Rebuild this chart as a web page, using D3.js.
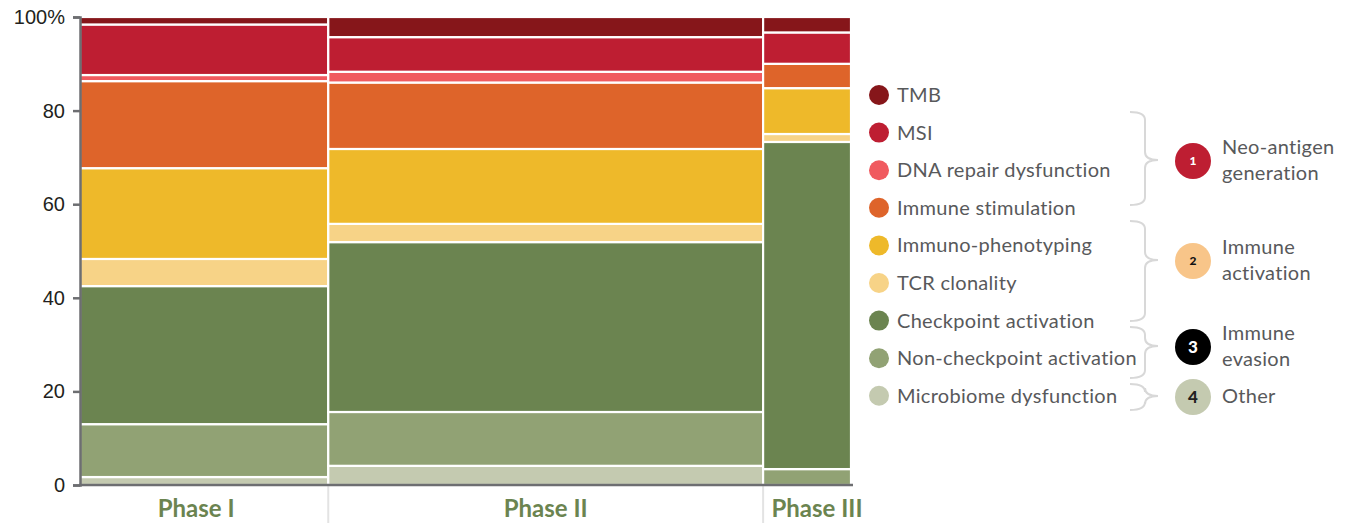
<!DOCTYPE html>
<html>
<head>
<meta charset="utf-8">
<script src="https://cdn.jsdelivr.net/npm/d3@7"></script>
<style>
  body { margin: 0; background: #fff; }
  svg { display: block; font-family: Lato, "Open Sans", sans-serif; }
  .yaxis text { font-size: 20px; fill: #231f20; font-variant-numeric: oldstyle-nums; font-feature-settings: "onum"; }
  .legend text, .group text.lbl { font-size: 20px; fill: #58595b; letter-spacing: 0.3px; }
</style>
</head>
<body>
<svg id="chart" width="1346" height="523"></svg>
<script>
// categories, bottom of the stack first
const categories = ["Microbiome dysfunction", "Non-checkpoint activation", "Checkpoint activation",
  "TCR clonality", "Immuno-phenotyping", "Immune stimulation", "DNA repair dysfunction", "MSI", "TMB"];
const catColors = ["#c4cab0", "#91a274", "#6b8450", "#f7d387", "#eeb92a", "#de642a", "#f05a5f", "#be1e32", "#86161a"];

const phases = ["Phase I", "Phase II", "Phase III"];
const phaseShare = [32.2, 56.4, 11.4]; // width of each column (share of trials, %)

// % of each phase, same order as categories
const phaseI   = [1.7, 11.3, 29.5, 5.8, 19.4, 18.6, 1.3, 10.8, 1.6];
const phaseII  = [4.1, 11.5, 36.3, 3.9, 16.0, 14.2, 2.3, 7.4, 4.3];
const phaseIII = [0, 3.4, 69.9, 1.7, 9.8, 5.2, 0, 6.7, 3.3];
const phaseValues = [phaseI, phaseII, phaseIII];

const yTicks = [0, 20, 40, 60, 80, 100];

const groups = [
  { num: "1", lines: ["Neo-antigen", "generation"], fill: "#be1e32", text: "#fff", size: 12 },
  { num: "2", lines: ["Immune", "activation"], fill: "#f8c589", text: "#111", size: 12 },
  { num: "3", lines: ["Immune", "evasion"], fill: "#000", text: "#fff", size: 17 },
  { num: "4", lines: ["Other"], fill: "#c4cab0", text: "#222", size: 17 }
];

const svg = d3.select("#chart");

const x = d3.scaleLinear().domain([0, 100]).range([80, 851]);
const y = d3.scaleLinear().domain([0, 100]).range([485, 17]);

// column positions
let acc = 0;
const cols = phases.map((p, i) => {
  const c = { name: p, x0: acc, x1: acc + phaseShare[i], values: phaseValues[i] };
  acc += phaseShare[i];
  return c;
});

// separators below axis
svg.append("g").selectAll("line").data(cols.slice(1)).enter().append("line")
  .attr("x1", d => x(d.x0)).attr("x2", d => x(d.x0))
  .attr("y1", 486).attr("y2", 523)
  .attr("stroke", "#e3e3e3").attr("stroke-width", 2);

// stacked cells
const cells = [];
cols.forEach(c => {
  let base = 0;
  c.values.forEach((v, k) => {
    if (v > 0) cells.push({ col: c, y0: base, y1: base + v, k: k });
    base += v;
  });
});

svg.append("g").selectAll("rect").data(cells).enter().append("rect")
  .attr("x", d => x(d.col.x0))
  .attr("width", d => x(d.col.x1) - x(d.col.x0))
  .attr("y", d => y(d.y1))
  .attr("height", d => y(d.y0) - y(d.y1))
  .style("fill", d => catColors[d.k])
  .attr("stroke", "#fff")
  .attr("stroke-width", 2.2);

// y axis
const yAxis = svg.append("g").attr("class", "yaxis")
  .attr("transform", "translate(80,0)")
  .call(d3.axisLeft(y).tickValues(yTicks).tickSize(7).tickPadding(8)
    .tickFormat(d => d === 100 ? "100%" : d));
yAxis.select(".domain").attr("stroke", "#6d6e71").attr("stroke-width", 2.5);
yAxis.selectAll(".tick line").attr("stroke", "#6d6e71").attr("stroke-width", 2.5);

// x axis line
svg.append("line")
  .attr("x1", 79).attr("x2", x(100) + 2)
  .attr("y1", y(0)).attr("y2", y(0))
  .attr("stroke", "#6d6e71").attr("stroke-width", 2.5);

// phase labels (first/last nudged like the original)
const labelNudge = [-8, 0, 10];
svg.append("g").selectAll("text").data(cols).enter().append("text")
  .attr("x", (d, i) => x((d.x0 + d.x1) / 2) + labelNudge[i])
  .attr("y", 517)
  .attr("text-anchor", "middle")
  .style("font-size", "24px").style("font-weight", "bold").style("fill", "#6b8450")
  .text(d => d.name);

// legend
const legendCats = categories.slice().reverse();
const rowY = i => 95 + i * 37.6;
const legend = svg.append("g").attr("class", "legend");
const row = legend.selectAll("g").data(legendCats).enter().append("g")
  .attr("transform", (d, i) => "translate(879," + rowY(i) + ")");
row.append("circle").attr("r", 10).style("fill", d => catColors[categories.indexOf(d)]);
row.append("text").attr("x", 18).attr("dy", "0.35em").text(d => d);

// brackets + group badges: [top, bottom, badge centre]
const bracketPos = [[112, 205, 160], [221, 321, 260], [327, 378, 346], [384, 410, 396]];
const gx0 = 1130, gx1 = 1145, gx2 = 1158, rr = 8;
const grp = svg.append("g").attr("class", "group");
groups.forEach((g, i) => {
  const [top, bot, mid] = bracketPos[i];
  const path = d3.path();
  path.moveTo(gx0, top);
  path.quadraticCurveTo(gx1, top, gx1, top + rr);
  path.lineTo(gx1, mid - rr);
  path.quadraticCurveTo(gx1, mid, gx2, mid);
  path.quadraticCurveTo(gx1, mid, gx1, mid + rr);
  path.lineTo(gx1, bot - rr);
  path.quadraticCurveTo(gx1, bot, gx0, bot);
  grp.append("path").attr("d", path.toString())
    .attr("fill", "none").attr("stroke", "#d8d8d8").attr("stroke-width", 2);

  grp.append("circle").attr("cx", 1193).attr("cy", mid + 1).attr("r", 18).style("fill", g.fill);
  grp.append("text").attr("x", 1193).attr("y", mid + 1).attr("dy", "0.36em")
    .attr("text-anchor", "middle")
    .style("font-size", g.size + "px").style("font-weight", "900").style("fill", g.text)
    .text(g.num);
  const n = g.lines.length;
  g.lines.forEach((t, j) => {
    grp.append("text").attr("class", "lbl").attr("x", 1222).attr("y", mid + (j - (n - 1) / 2) * 26)
      .attr("dy", "0.35em").text(t);
  });
});
</script>
</body>
</html>
